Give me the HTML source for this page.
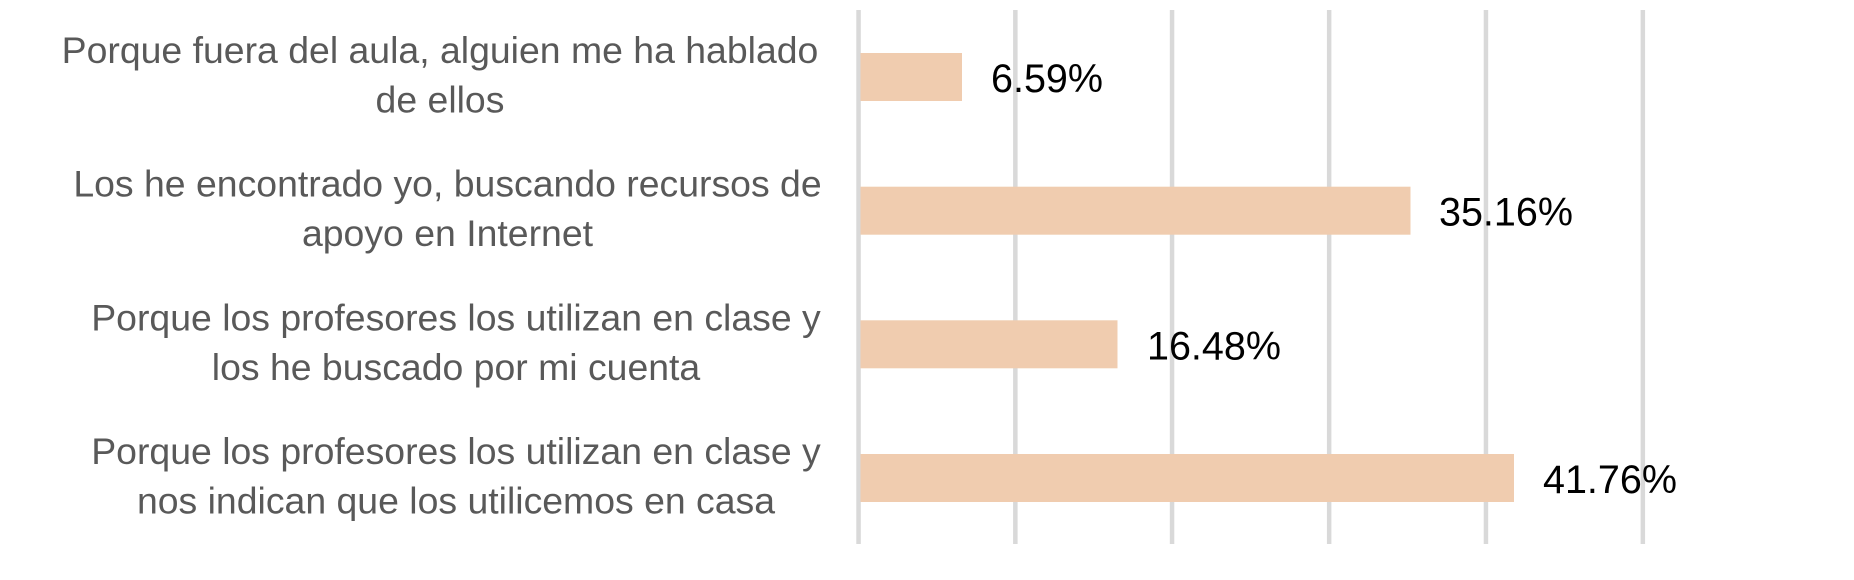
<!DOCTYPE html>
<html>
<head>
<meta charset="utf-8">
<style>
html,body{margin:0;padding:0;background:#fff;}
svg{display:block;}
</style>
</head>
<body>
<svg width="1854" height="580" viewBox="0 0 1854 580" xmlns="http://www.w3.org/2000/svg">
  <rect x="0" y="0" width="1854" height="580" fill="#ffffff"/>
  <!-- gridlines -->
  <g fill="#D9D9D9">
    <rect x="856.3" y="10" width="4.5" height="534"/>
    <rect x="1013.1" y="10" width="4.5" height="534"/>
    <rect x="1169.8" y="10" width="4.5" height="534"/>
    <rect x="1326.9" y="10" width="4.5" height="534"/>
    <rect x="1483.7" y="10" width="4.5" height="534"/>
    <rect x="1640.6" y="10" width="4.5" height="534"/>
  </g>
  <!-- bars -->
  <g fill="#F0CCAF">
    <rect x="860.5" y="53" width="101.5" height="48"/>
    <rect x="860.5" y="186.7" width="550" height="48"/>
    <rect x="860.5" y="320.3" width="257" height="48"/>
    <rect x="860.5" y="454" width="653.5" height="48"/>
  </g>
  <!-- data labels -->
  <g font-family="'Liberation Sans', sans-serif" font-size="39.5" fill="#000000">
    <text x="991" y="92">6.59%</text>
    <text x="1439" y="225.7">35.16%</text>
    <text x="1147" y="359.3">16.48%</text>
    <text x="1543" y="493">41.76%</text>
  </g>
  <!-- category labels -->
  <g font-family="'Liberation Sans', sans-serif" font-size="37.4" fill="#595959" text-anchor="middle">
    <text x="440" y="63">Porque fuera del aula, alguien me ha hablado</text>
    <text x="440" y="112.5">de ellos</text>
    <text x="447.5" y="196.7">Los he encontrado yo, buscando recursos de</text>
    <text x="447.5" y="246.2">apoyo en Internet</text>
    <text x="456" y="330.3">Porque los profesores los utilizan en clase y</text>
    <text x="456" y="379.8">los he buscado por mi cuenta</text>
    <text x="456" y="464">Porque los profesores los utilizan en clase y</text>
    <text x="456" y="513.5">nos indican que los utilicemos en casa</text>
  </g>
</svg>
</body>
</html>
